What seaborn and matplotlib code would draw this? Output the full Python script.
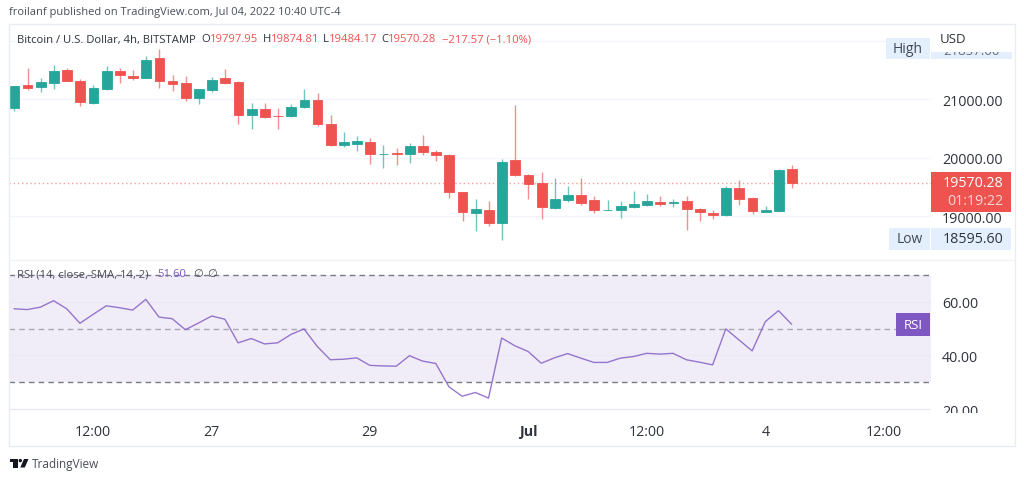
# BTC/USD 4h candles with RSI pane, TradingView snapshot style

import matplotlib
matplotlib.use("Agg")
import matplotlib.pyplot as plt
from matplotlib.patches import Rectangle, Polygon, Circle
import numpy as np
import seaborn as sns

opens = [20848, 21236, 21207, 21276, 21498, 21315, 20928, 21173, 21486, 21401,
         21367, 21708, 21315, 21270, 21013, 21161, 21367, 21287, 20722, 20831,
         20716, 20705, 20865, 20979, 20568, 20216, 20233, 20267, 20057, 20085,
         20057, 20199, 20102, 20051, 19418, 19048, 19111, 18883, 19954, 19709,
         19561, 19145, 19276, 19367, 19270, 19099, 19099, 19162, 19196, 19242,
         19225, 19253, 19122, 19054, 19020, 19481, 19305, 19077, 19094, 19797.95]
highs = [21230, 21532, 21361, 21578, 21526, 21343, 21241, 21572, 21532, 21498,
         21743, 21857, 21418, 21401, 21173, 21378, 21515, 21315, 20933, 20928,
         20853, 20910, 21173, 21104, 20734, 20438, 20364, 20330, 20216, 20165,
         20250, 20393, 20136, 20068, 19418, 19293, 19253, 19982, 20900, 19726,
         19760, 19646, 19521, 19658, 19350, 19270, 19253, 19435, 19384, 19350,
         19287, 19350, 19145, 19099, 19510, 19612, 19322, 19173, 19812, 19874.81]
lows = [20791, 21150, 21116, 21173, 21309, 20888, 20916, 21161, 21276, 21332,
        21355, 21190, 21133, 20962, 20910, 21127, 21264, 20574, 20494, 20677,
        20494, 20694, 20848, 20534, 20203, 20182, 20119, 19897, 19829, 19874,
        19908, 20040, 19937, 19304, 18917, 18740, 18837, 18596, 19680, 19287,
        18951, 19128, 19242, 19196, 19048, 19099, 18963, 19134, 19168, 19173,
        19151, 18769, 18917, 18951, 19008, 19196, 19031, 19071, 19094, 19484.17]
closes = [21219, 21196, 21287, 21481, 21309, 20956, 21190, 21481, 21418, 21367,
          21675, 21309, 21258, 21013, 21173, 21332, 21276, 20722, 20831, 20688,
          20705, 20865, 20979, 20574, 20215, 20262, 20284, 20057, 20068, 20057,
          20199, 20091, 20040, 19407, 19065, 19128, 18883, 19925, 19698, 19555,
          19162, 19293, 19367, 19225, 19099, 19111, 19173, 19208, 19259, 19202,
          19242, 19116, 19065, 19020, 19487, 19293, 19082, 19105, 19795, 19570.28]
rsi_values = [57.4, 57.1, 58.0, 60.4, 57.4, 52.0, 55.3, 58.5, 57.8, 56.9,
              60.9, 54.3, 53.7, 49.6, 52.1, 54.7, 53.5, 44.7, 46.3, 44.3,
              44.7, 47.8, 49.9, 43.4, 38.4, 38.6, 39.1, 36.3, 36.1, 36.0,
              39.9, 37.9, 37.0, 28.3, 24.8, 26.2, 24.1, 46.5, 43.6, 41.5,
              37.1, 39.1, 40.7, 39.0, 37.4, 37.4, 39.0, 39.6, 40.8, 40.5,
              40.8, 38.4, 37.5, 36.5, 49.9, 45.8, 41.7, 52.6, 56.7, 51.6]
price_ticks = [19000, 20000, 21000, 22000]
price_labels = ["19000.00", "20000.00", "21000.00", ""]
rsi_ticks = [20, 40, 60]
rsi_labels = ["20.00", "40.00", "60.00"]
time_ticks = [6, 15, 27, 39, 48, 57, 66]
time_labels = ["12:00", "27", "29", "Jul", "12:00", "4", "12:00"]

UP = "#26a69a"
DOWN = "#ef5350"
PURPLE = "#7e57c2"
GRID = "#f3f5fa"
TEXT = "#2f333e"
W, H = 1024, 481

sns.set_theme(style="white")
plt.rcParams["font.family"] = ["Open Sans", "DejaVu Sans"]


def pane(fig, left, top, right, bottom):
    # axes placed by pixel box
    return fig.add_axes([left / W, 1 - bottom / H, (right - left) / W, (bottom - top) / H])


fig = plt.figure(figsize=(W / 100, H / 100), dpi=100, facecolor="white")
ax = pane(fig, 9, 25, 931, 260)
ax2 = pane(fig, 9, 262, 931, 412)
over = fig.add_axes([0, 0, 1, 1], zorder=10)
over.set_xlim(0, W)
over.set_ylim(H, 0)
over.axis("off")
over.patch.set_alpha(0)

idx = np.arange(len(closes))
o, h, l, c = map(np.array, (opens, highs, lows, closes))
colors = [UP if x >= y else DOWN for x, y in zip(c, o)]

# price pane, thin edge so the doji bodies still show up
ax.vlines(idx + 0.03, l, h, colors=colors, linewidth=1, alpha=0.65, zorder=2)
ax.bar(idx + 0.03, np.abs(c - o), bottom=np.minimum(o, c), width=0.74, color=colors,
       edgecolor=colors, linewidth=0.6, zorder=3)
ax.axhline(closes[-1], color=DOWN, linewidth=1, linestyle=(0, (1, 2)), alpha=0.55, zorder=1)
ax.set_xlim(-0.38, 69.57)
ax.set_ylim(18267, 22283)
ax.set_xticks([])
ax.yaxis.tick_right()
ax.set_yticks(price_ticks, price_labels)
ax.tick_params(axis="y", length=0, pad=8, labelsize=10.3, labelcolor=TEXT)
ax.grid(axis="y", color=GRID, linewidth=1)
ax.set_axisbelow(True)
sns.despine(ax=ax, left=True, bottom=True, right=True, top=True)

# rsi pane
ax2.axhspan(30, 70, color=PURPLE, alpha=0.1, linewidth=0, zorder=0)
ax2.axhline(70, color="#787b86", linewidth=1, linestyle=(0, (4, 3)), zorder=1)
ax2.axhline(50, color="#787b86", linewidth=1, linestyle=(0, (4, 3)), alpha=0.6, zorder=1)
ax2.axhline(30, color="#787b86", linewidth=1, linestyle=(0, (4, 3)), zorder=1)
sns.lineplot(x=idx, y=rsi_values, ax=ax2, color=PURPLE, linewidth=1, alpha=0.8, zorder=3)
ax2.set_xlim(-0.38, 69.57)
ax2.set_ylim(19.3, 75.2)
ax2.set_xlabel("")
ax2.set_ylabel("")
ax2.yaxis.tick_right()
ax2.set_yticks(rsi_ticks, rsi_labels)
ax2.set_xticks(time_ticks, time_labels)
ax2.tick_params(axis="y", length=0, pad=8, labelsize=10.3, labelcolor=TEXT)
ax2.tick_params(axis="x", length=0, pad=9.5, labelsize=10.3, labelcolor=TEXT)
ax2.get_xticklabels()[3].set_fontweight("bold")
ax2.grid(axis="y", color="#ebe8f4", linewidth=1)
ax2.set_axisbelow(True)
sns.despine(ax=ax2, left=True, bottom=True, right=True, top=True)

# frame around the chart
over.add_patch(Rectangle((9, 25), 1006, 422, fill=False, edgecolor="#e9ecf3", linewidth=1))
over.plot([9, 1015], [261, 261], color="#f1f3f7", linewidth=1)

# headers
over.text(9, 13, "froilanf published on TradingView.com, Jul 04, 2022 10:40 UTC-4",
          fontsize=8, color="#4a4e59", va="center")
over.text(17, 40, "Bitcoin / U.S. Dollar, 4h, BITSTAMP", fontsize=8.1, color=TEXT, va="center")
for x, s, col in [(201.5, "O", TEXT), (210, "19797.95", DOWN), (262.5, "H", TEXT), (270.5, "19874.81", DOWN),
                  (323, "L", TEXT), (329, "19484.17", DOWN), (381.5, "C", TEXT), (388, "19570.28", DOWN),
                  (441.5, "\u2212217.57 (\u22121.10%)", DOWN)]:
    over.text(x, 40, s, fontsize=8.1, color=col, va="center")

over.text(17, 275, "RSI (14, close, SMA, 14, 2)", fontsize=8.1, color="#4a4e59", va="center")
over.text(157, 275, "51.60", fontsize=8.1, color=PURPLE, va="center")
over.text(193, 275, "\u2205", fontsize=8.1, color="#4a4e59", va="center")
over.text(207, 275, "\u2205", fontsize=8.1, color="#4a4e59", va="center")

# right side badges
over.add_patch(Rectangle((931, 53), 81, 7, color="#e3effd", linewidth=0, zorder=1))
over.text(971, 51.8, "21857.00", fontsize=9.5, color="#6a6e79", ha="center", va="center", zorder=2)
over.add_patch(Rectangle((931, 27), 83, 26, color="white", linewidth=0, zorder=3))
over.text(940, 39.5, "USD", fontsize=9.5, color=TEXT, va="center", zorder=4)
over.add_patch(Rectangle((886, 39), 44, 21, color="#e3effd", linewidth=0, zorder=3))
over.text(908, 49.5, "High", fontsize=10, color="#444854", ha="center", va="center", zorder=4)

over.add_patch(Rectangle((889, 229), 41, 22, color="#e3effd", linewidth=0, zorder=3))
over.add_patch(Rectangle((931, 229), 80, 22, color="#e3effd", linewidth=0, zorder=3))
over.text(909.5, 240, "Low", fontsize=10, color="#444854", ha="center", va="center", zorder=4)
over.text(1003, 240, "18595.60", fontsize=10.3, color=TEXT, ha="right", va="center", zorder=4)

over.add_patch(Rectangle((931, 173), 80, 40, color=DOWN, linewidth=0, zorder=3))
over.text(1003, 184, "19570.28", fontsize=10.3, color="white", ha="right", va="center", zorder=4)
over.text(1003, 202, "01:19:22", fontsize=10.3, color="#fbd5d4", ha="right", va="center", zorder=4)

over.add_patch(Rectangle((896, 314), 34, 23, color=PURPLE, linewidth=0, zorder=3))
over.text(913, 325.5, "RSI", fontsize=9.5, color="white", ha="center", va="center", zorder=4)

# 20.00 gets cut off by the time axis
over.add_patch(Rectangle((934, 414), 60, 12, color="white", linewidth=0, zorder=3))

# logo and footer
over.add_patch(Rectangle((9.5, 460), 8.5, 3, color="#131722", linewidth=0))
over.add_patch(Rectangle((13, 460), 5, 8.5, color="#131722", linewidth=0))
over.add_patch(Circle((20.3, 461.6), 1.7, color="#131722", linewidth=0))
over.add_patch(Polygon([(24, 460), (28.5, 460), (24.8, 468.5), (20.3, 468.5)], color="#131722", linewidth=0))
over.text(32, 464.5, "TradingView", fontsize=8.5, color="#4a4e59", va="center")

fig.savefig("out.png", dpi=100, facecolor="white")
